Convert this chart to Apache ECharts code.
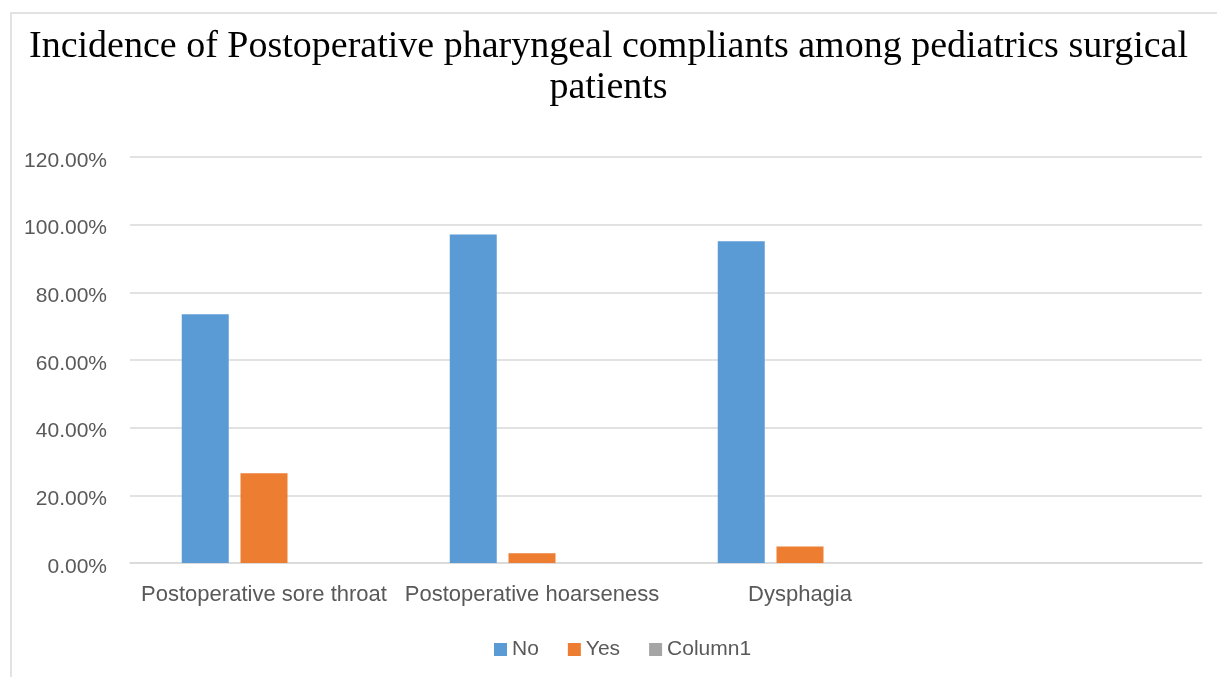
<!DOCTYPE html>
<html>
<head>
<meta charset="utf-8">
<script src="https://cdn.jsdelivr.net/npm/echarts@6/dist/echarts.min.js"></script>
<style>
  html, body { margin: 0; padding: 0; background: #fff; }
  #chart { width: 1217px; height: 677px; }
</style>
</head>
<body>
<div id="chart"></div>
<script>
const categories = ['Postoperative sore throat', 'Postoperative hoarseness', 'Dysphagia', ''];
const noValues = [0.735, 0.971, 0.951, null];
const yesValues = [0.265, 0.029, 0.049, null];
const column1Values = [null, null, null, null];

const labelFont = 'Liberation Sans';
const labelColor = '#595959';

const chart = echarts.init(document.getElementById('chart'), null, { renderer: 'canvas' });

chart.setOption({
  animation: false,
  backgroundColor: '#fff',
  graphic: [
    {
      type: 'rect',
      shape: { x: 11, y: 13, width: 1240, height: 700 },
      style: { fill: 'none', stroke: '#d9d9d9', lineWidth: 1.5 },
      silent: true
    }
  ],
  title: {
    text: 'Incidence of Postoperative pharyngeal compliants among pediatrics surgical\npatients',
    left: 'center',
    top: 22,
    textStyle: {
      fontFamily: 'Liberation Serif',
      fontSize: 38,
      fontWeight: 'normal',
      color: '#000',
      lineHeight: 41
    }
  },
  grid: { left: 130, right: 15, top: 157, bottom: 114 },
  legend: {
    top: 634,
    left: 489,
    itemWidth: 13,
    itemHeight: 13,
    itemGap: 29,
    icon: 'rect',
    textStyle: { fontFamily: labelFont, fontSize: 21, color: labelColor },
    data: ['No', 'Yes', 'Column1']
  },
  xAxis: {
    type: 'category',
    data: categories,
    axisLine: { lineStyle: { color: '#d9d9d9', width: 1.5 } },
    axisTick: { show: false },
    axisLabel: { fontFamily: labelFont, fontSize: 22, color: labelColor, margin: 21, interval: 0 }
  },
  yAxis: {
    type: 'value',
    min: 0,
    max: 1.2,
    interval: 0.2,
    axisLine: { show: false },
    axisTick: { show: false },
    splitLine: { lineStyle: { color: '#d9d9d9', width: 1.5 } },
    axisLabel: {
      fontFamily: labelFont, fontSize: 21, color: labelColor, margin: 23,
      formatter: v => '{v|' + (v * 100).toFixed(2) + '%}',
      rich: { v: { fontFamily: labelFont, fontSize: 21, color: labelColor, padding: [8, 0, 0, 0] } }
    }
  },
  series: [
    { name: 'No', type: 'bar', data: noValues, itemStyle: { color: '#5b9bd5' }, barWidth: 47, barGap: '25%' },
    { name: 'Yes', type: 'bar', data: yesValues, itemStyle: { color: '#ed7d31' }, barWidth: 47, barGap: '25%' },
    { name: 'Column1', type: 'bar', data: column1Values, itemStyle: { color: '#a5a5a5' }, barWidth: 47, barGap: '25%' }
  ]
});
</script>
</body>
</html>
